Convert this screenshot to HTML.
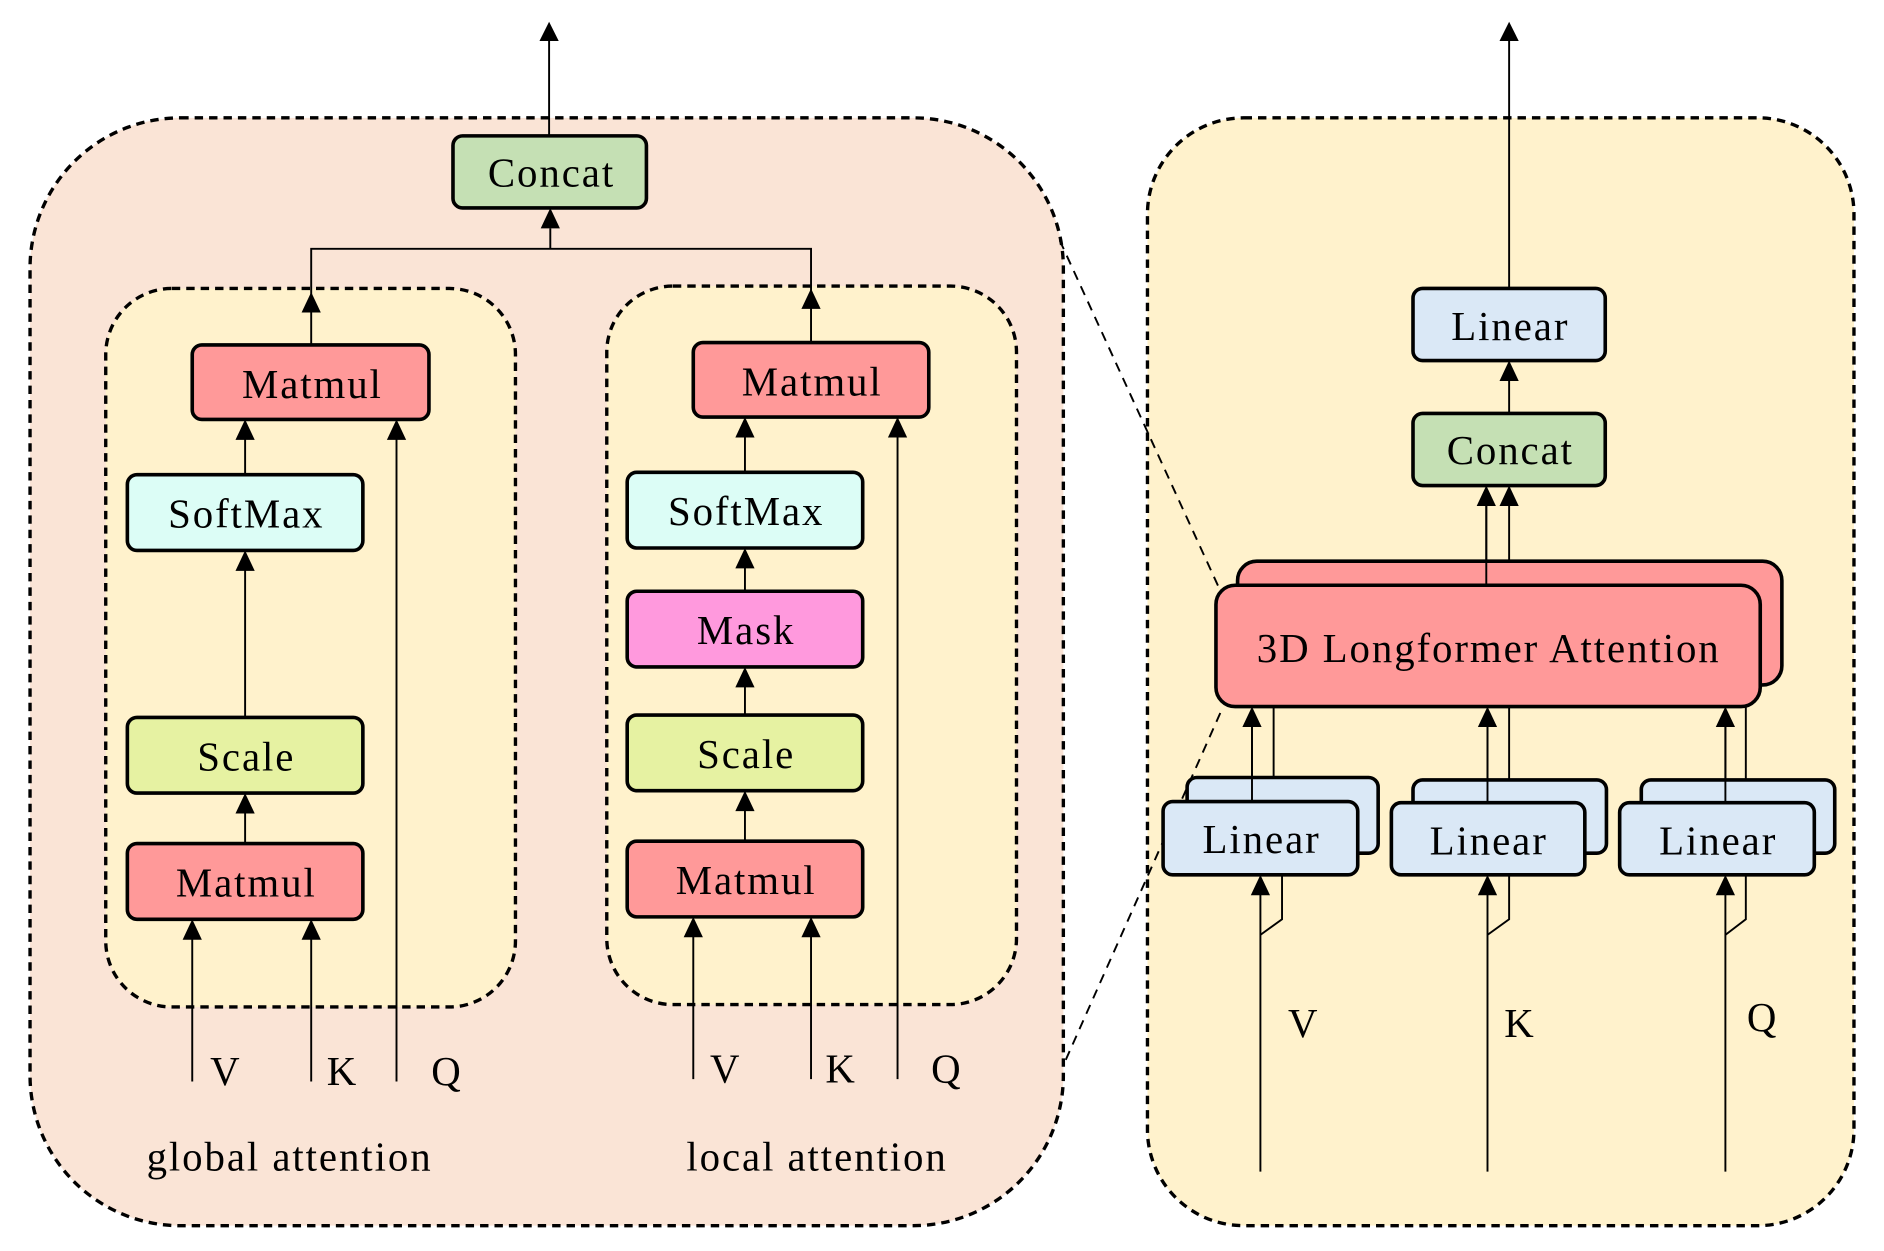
<!DOCTYPE html>
<html><head><meta charset="utf-8"><style>
html,body{margin:0;padding:0;background:#fff;}
svg{display:block;}
text{font-family:"Liberation Serif",serif;fill:#000;}
</style></head><body>
<svg width="1884" height="1251" viewBox="0 0 1568 1041" xmlns="http://www.w3.org/2000/svg">
<rect x="25" y="98" width="860" height="922" rx="125" fill="#fae4d6" stroke="#000" stroke-width="2.8" stroke-dasharray="7,5"/>
<rect x="955" y="98" width="588" height="922" rx="80" fill="#fff2cc" stroke="#000" stroke-width="2.8" stroke-dasharray="7,5"/>
<line x1="882" y1="200" x2="1014" y2="488" stroke="#000" stroke-width="1.6" stroke-dasharray="8,6"/>
<line x1="887" y1="882" x2="1018" y2="588" stroke="#000" stroke-width="1.6" stroke-dasharray="8,6"/>
<rect x="88" y="240" width="341" height="598" rx="55" fill="#fff2cc" stroke="#000" stroke-width="2.8" stroke-dasharray="7,5"/>
<rect x="505" y="238" width="341" height="598" rx="55" fill="#fff2cc" stroke="#000" stroke-width="2.8" stroke-dasharray="7,5"/>

<g stroke="#000" stroke-width="1.6" fill="none">
<line x1="457" y1="113" x2="457" y2="30"/>
<polyline points="259,287 259,207 675,207 675,285"/>
<line x1="458" y1="207" x2="458" y2="190"/>
<line x1="204" y1="395" x2="204" y2="360"/>
<line x1="204" y1="597" x2="204" y2="470"/>
<line x1="204" y1="702" x2="204" y2="672"/>
<line x1="330" y1="900" x2="330" y2="362"/>
<line x1="160" y1="900" x2="160" y2="778"/>
<line x1="259" y1="900" x2="259" y2="778"/>
<line x1="620" y1="393" x2="620" y2="360"/>
<line x1="620" y1="492" x2="620" y2="468"/>
<line x1="620" y1="595" x2="620" y2="567"/>
<line x1="620" y1="700" x2="620" y2="670"/>
<line x1="747" y1="898" x2="747" y2="360"/>
<line x1="577" y1="898" x2="577" y2="776"/>
<line x1="675" y1="898" x2="675" y2="776"/>
<line x1="1256" y1="240" x2="1256" y2="30"/>
<line x1="1256" y1="344" x2="1256" y2="314"/>
<line x1="1237" y1="487" x2="1237" y2="418"/>
<line x1="1256" y1="467" x2="1256" y2="418"/>
<line x1="1042" y1="667" x2="1042" y2="602"/>
<line x1="1060" y1="647" x2="1060" y2="588"/>
<line x1="1238" y1="668" x2="1238" y2="602"/>
<line x1="1256" y1="648" x2="1256" y2="588"/>
<line x1="1436" y1="668" x2="1436" y2="602"/>
<line x1="1453" y1="648" x2="1453" y2="588"/>
<line x1="1049" y1="975" x2="1049" y2="742"/>
<polyline points="1067,728 1067,765 1049,778"/>
<line x1="1238" y1="975" x2="1238" y2="742"/>
<polyline points="1256,728 1256,765 1238,778"/>
<line x1="1436" y1="975" x2="1436" y2="742"/>
<polyline points="1453,728 1453,765 1436,778"/>
</g>
<g fill="#000">
<polygon points="457,18 449,34 465,34"/>
<polygon points="458,173 450,190 466,190"/>
<polygon points="259,243 251,260 267,260"/>
<polygon points="675,240 667,257 683,257"/>
<polygon points="204,349 196,366 212,366"/>
<polygon points="204,458 196,475 212,475"/>
<polygon points="204,660 196,677 212,677"/>
<polygon points="330,349 322,366 338,366"/>
<polygon points="160,765 152,782 168,782"/>
<polygon points="259,765 251,782 267,782"/>
<polygon points="620,347 612,364 628,364"/>
<polygon points="620,456 612,473 628,473"/>
<polygon points="620,555 612,572 628,572"/>
<polygon points="620,658 612,675 628,675"/>
<polygon points="747,347 739,364 755,364"/>
<polygon points="577,763 569,780 585,780"/>
<polygon points="675,763 667,780 683,780"/>
<polygon points="1256,18 1248,34 1264,34"/>
<polygon points="1256,300 1248,317 1264,317"/>
<polygon points="1237,404 1229,421 1245,421"/>
<polygon points="1256,404 1248,421 1264,421"/>
<polygon points="1042,588 1034,605 1050,605"/>
<polygon points="1238,588 1230,605 1246,605"/>
<polygon points="1436,588 1428,605 1444,605"/>
<polygon points="1049,728 1041,745 1057,745"/>
<polygon points="1238,728 1230,745 1246,745"/>
<polygon points="1436,728 1428,745 1444,745"/>
</g>
<g stroke="#000" stroke-width="3">
<rect x="377" y="113" width="161" height="60" rx="8" fill="#c5e0b4"/>
<rect x="160" y="287" width="197" height="62" rx="8" fill="#ff9999"/>
<rect x="106" y="395" width="196" height="63" rx="8" fill="#dcfdf6"/>
<rect x="106" y="597" width="196" height="63" rx="8" fill="#e6f2a2"/>
<rect x="106" y="702" width="196" height="63" rx="8" fill="#ff9999"/>
<rect x="577" y="285" width="196" height="62" rx="8" fill="#ff9999"/>
<rect x="522" y="393" width="196" height="63" rx="8" fill="#dcfdf6"/>
<rect x="522" y="492" width="196" height="63" rx="8" fill="#ff99dd"/>
<rect x="522" y="595" width="196" height="63" rx="8" fill="#e6f2a2"/>
<rect x="522" y="700" width="196" height="63" rx="8" fill="#ff9999"/>
<rect x="1176" y="240" width="160" height="60" rx="8" fill="#dae8f6"/>
<rect x="1176" y="344" width="160" height="60" rx="8" fill="#c5e0b4"/>
<rect x="1030" y="467" width="453" height="103" rx="16" fill="#ff9999"/>
<rect x="1012" y="487" width="453" height="101" rx="16" fill="#ff9999"/>
<rect x="988" y="647" width="159" height="63" rx="8" fill="#dae8f6"/>
<rect x="968" y="667" width="162" height="61" rx="8" fill="#dae8f6"/>
<rect x="1176" y="649" width="161" height="61" rx="8" fill="#dae8f6"/>
<rect x="1158" y="668" width="161" height="60" rx="8" fill="#dae8f6"/>
<rect x="1366" y="649" width="161" height="61" rx="8" fill="#dae8f6"/>
<rect x="1348" y="668" width="162" height="60" rx="8" fill="#dae8f6"/>
</g>
<g stroke="#000" stroke-width="1.6">
<line x1="1042" y1="667" x2="1042" y2="602"/>
<line x1="1238" y1="668" x2="1238" y2="602"/>
<line x1="1436" y1="668" x2="1436" y2="602"/>
<line x1="1237" y1="487" x2="1237" y2="420"/>
</g>
<g font-size="34" text-anchor="middle" letter-spacing="1.6">
<text x="459" y="155">Concat</text>
<text x="260" y="331">Matmul</text>
<text x="205" y="439">SoftMax</text>
<text x="205" y="641">Scale</text>
<text x="205" y="746">Matmul</text>
<text x="676" y="329">Matmul</text>
<text x="621" y="437">SoftMax</text>
<text x="621" y="536">Mask</text>
<text x="621" y="639">Scale</text>
<text x="621" y="744">Matmul</text>
<text x="1257" y="283">Linear</text>
<text x="1257" y="386">Concat</text>
<text x="1239" y="551">3D Longformer Attention</text>
<text x="1050" y="710">Linear</text>
<text x="1239" y="711">Linear</text>
<text x="1430" y="711">Linear</text>
<text x="188" y="903">V</text>
<text x="285" y="903">K</text>
<text x="372" y="903">Q</text>
<text x="604" y="901">V</text>
<text x="700" y="901">K</text>
<text x="788" y="901">Q</text>
<text x="1085" y="863">V</text>
<text x="1265" y="863">K</text>
<text x="1467" y="858">Q</text>
<text x="241" y="974">global attention</text>
<text x="680" y="974">local attention</text>
</g>
</svg>
</body></html>
